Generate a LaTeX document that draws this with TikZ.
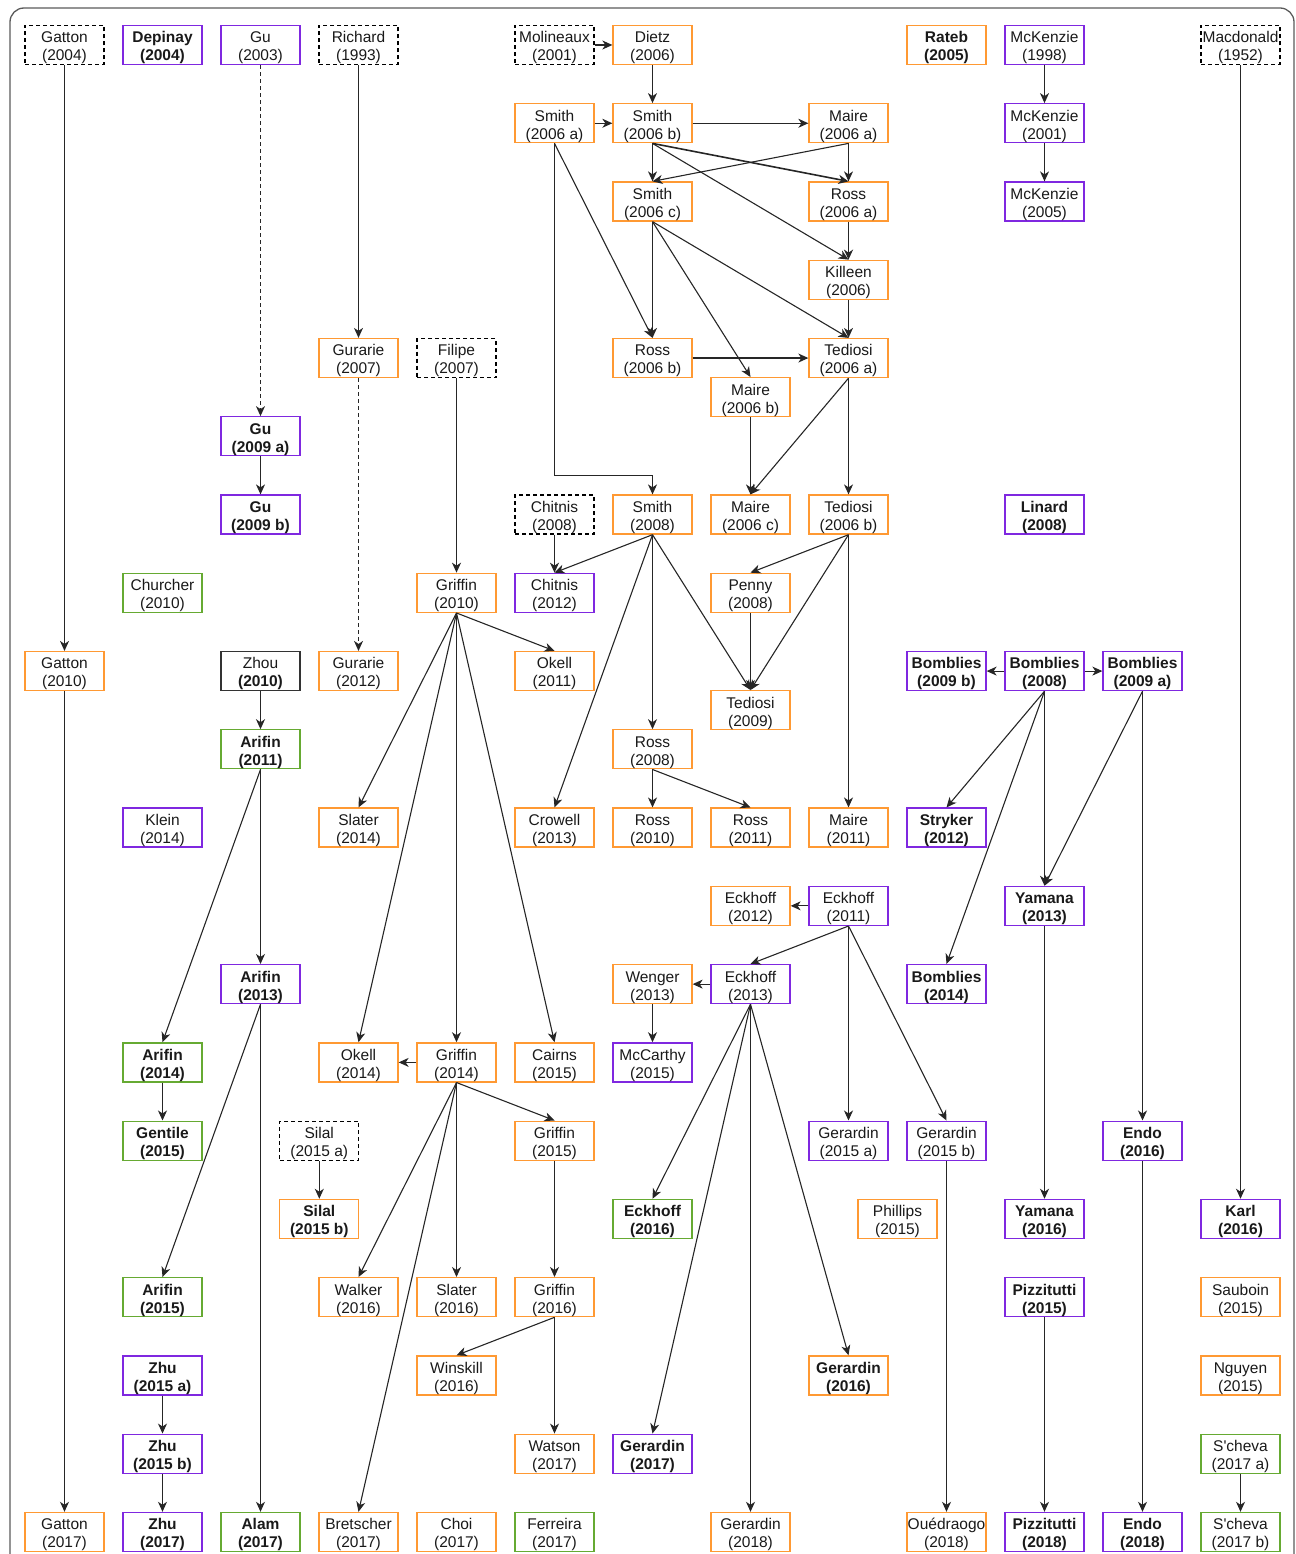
\documentclass[tikz,border=0pt]{standalone}
\usepackage{fontspec}
\setmainfont{Liberation Sans}
\usetikzlibrary{arrows.meta}
\definecolor{orng}{RGB}{255,153,51}
\definecolor{purp}{RGB}{127,40,224}
\definecolor{grn}{RGB}{102,170,50}
\definecolor{frm}{RGB}{90,90,90}
\newcommand\cx[1]{(64.5+98*#1)}
\newcommand\cy[1]{(45+78.26*#1)}
\newcommand\tx[2]{\rule{0pt}{17pt}#1\\#2}
\tikzset{
  box/.style={draw, minimum width=79pt, minimum height=39pt, inner sep=0pt, align=center,
    font=\fontsize{15.5}{18}\selectfont, line width=1.3pt, text=black!90},
  bf/.style={font=\fontsize{15.5}{18}\selectfont\bfseries},
  or/.style={box, draw=orng},
  pu/.style={box, draw=purp},
  gr/.style={box, draw=grn},
  da/.style={box, draw=black, dash pattern=on 4pt off 3pt},
  bk/.style={box, draw=black!80},
  arr/.style={-{Stealth[length=10pt,width=9pt,inset=3pt]}, line width=1.1pt, black!85},
  dsh/.style={arr, dash pattern=on 4pt off 3pt}
}
\begin{document}
\begin{tikzpicture}[x=1pt,y=-1pt]
\useasboundingbox (0,0) rectangle (1295,1554);
\clip (0,0) rectangle (1295,1554);
\draw[frm, line width=1.3pt, rounded corners=14pt] (10,8) rectangle (1294,1600);
% row 0
\node[da] (gat04) at ({\cx{0}},{\cy{0}}) {\tx{Gatton}{(2004)}};
\node[pu,bf] (dep04) at ({\cx{1}},{\cy{0}}) {\tx{Depinay}{(2004)}};
\node[pu] (gu03) at ({\cx{2}},{\cy{0}}) {\tx{Gu}{(2003)}};
\node[da] (ric93) at ({\cx{3}},{\cy{0}}) {\tx{Richard}{(1993)}};
\node[da] (mol01) at ({\cx{5}},{\cy{0}}) {\tx{Molineaux}{(2001)}};
\node[or] (die06) at ({\cx{6}},{\cy{0}}) {\tx{Dietz}{(2006)}};
\node[or,bf] (rat05) at ({\cx{9}},{\cy{0}}) {\tx{Rateb}{(2005)}};
\node[pu] (mck98) at ({\cx{10}},{\cy{0}}) {\tx{McKenzie}{(1998)}};
\node[da] (mac52) at ({\cx{12}},{\cy{0}}) {\tx{Macdonald}{(1952)}};
% row 1
\node[or] (smi06a) at ({\cx{5}},{\cy{1}}) {\tx{Smith}{(2006 a)}};
\node[or] (smi06b) at ({\cx{6}},{\cy{1}}) {\tx{Smith}{(2006 b)}};
\node[or] (mai06a) at ({\cx{8}},{\cy{1}}) {\tx{Maire}{(2006 a)}};
\node[pu] (mck01) at ({\cx{10}},{\cy{1}}) {\tx{McKenzie}{(2001)}};
% row 2
\node[or] (smi06c) at ({\cx{6}},{\cy{2}}) {\tx{Smith}{(2006 c)}};
\node[or] (ros06a) at ({\cx{8}},{\cy{2}}) {\tx{Ross}{(2006 a)}};
\node[pu] (mck05) at ({\cx{10}},{\cy{2}}) {\tx{McKenzie}{(2005)}};
% row 3
\node[or] (kil06) at ({\cx{8}},{\cy{3}}) {\tx{Killeen}{(2006)}};
% row 4
\node[or] (gur07) at ({\cx{3}},{\cy{4}}) {\tx{Gurarie}{(2007)}};
\node[da] (fil07) at ({\cx{4}},{\cy{4}}) {\tx{Filipe}{(2007)}};
\node[or] (ros06b) at ({\cx{6}},{\cy{4}}) {\tx{Ross}{(2006 b)}};
\node[or] (ted06a) at ({\cx{8}},{\cy{4}}) {\tx{Tediosi}{(2006 a)}};
\node[or] (mai06b) at ({\cx{7}},{\cy{4.5}}) {\tx{Maire}{(2006 b)}};
% row 5
\node[pu,bf] (gu09a) at ({\cx{2}},{\cy{5}}) {\tx{Gu}{(2009 a)}};
% row 6
\node[pu,bf] (gu09b) at ({\cx{2}},{\cy{6}}) {\tx{Gu}{(2009 b)}};
\node[da] (chi08) at ({\cx{5}},{\cy{6}}) {\tx{Chitnis}{(2008)}};
\node[or] (smi08) at ({\cx{6}},{\cy{6}}) {\tx{Smith}{(2008)}};
\node[or] (mai06c) at ({\cx{7}},{\cy{6}}) {\tx{Maire}{(2006 c)}};
\node[or] (ted06b) at ({\cx{8}},{\cy{6}}) {\tx{Tediosi}{(2006 b)}};
\node[pu,bf] (lin08) at ({\cx{10}},{\cy{6}}) {\tx{Linard}{(2008)}};
% row 7
\node[gr] (chu10) at ({\cx{1}},{\cy{7}}) {\tx{Churcher}{(2010)}};
\node[or] (gri10) at ({\cx{4}},{\cy{7}}) {\tx{Griffin}{(2010)}};
\node[pu] (chi12) at ({\cx{5}},{\cy{7}}) {\tx{Chitnis}{(2012)}};
\node[or] (pen08) at ({\cx{7}},{\cy{7}}) {\tx{Penny}{(2008)}};
% row 8
\node[or] (gat10) at ({\cx{0}},{\cy{8}}) {\tx{Gatton}{(2010)}};
\node[bk] (zho10) at ({\cx{2}},{\cy{8}}) {\tx{Zhou}{\textbf{(2010)}}};
\node[or] (gur12) at ({\cx{3}},{\cy{8}}) {\tx{Gurarie}{(2012)}};
\node[or] (oke11) at ({\cx{5}},{\cy{8}}) {\tx{Okell}{(2011)}};
\node[pu,bf] (bom09b) at ({\cx{9}},{\cy{8}}) {\tx{Bomblies}{(2009 b)}};
\node[pu,bf] (bom08) at ({\cx{10}},{\cy{8}}) {\tx{Bomblies}{(2008)}};
\node[pu,bf] (bom09a) at ({\cx{11}},{\cy{8}}) {\tx{Bomblies}{(2009 a)}};
\node[or] (ted09) at ({\cx{7}},{\cy{8.5}}) {\tx{Tediosi}{(2009)}};
% row 9
\node[gr,bf] (ari11) at ({\cx{2}},{\cy{9}}) {\tx{Arifin}{(2011)}};
\node[or] (ros08) at ({\cx{6}},{\cy{9}}) {\tx{Ross}{(2008)}};
% row 10
\node[pu] (kle14) at ({\cx{1}},{\cy{10}}) {\tx{Klein}{(2014)}};
\node[or] (sla14) at ({\cx{3}},{\cy{10}}) {\tx{Slater}{(2014)}};
\node[or] (cro13) at ({\cx{5}},{\cy{10}}) {\tx{Crowell}{(2013)}};
\node[or] (ros10) at ({\cx{6}},{\cy{10}}) {\tx{Ross}{(2010)}};
\node[or] (ros11) at ({\cx{7}},{\cy{10}}) {\tx{Ross}{(2011)}};
\node[or] (mai11) at ({\cx{8}},{\cy{10}}) {\tx{Maire}{(2011)}};
\node[pu,bf] (str12) at ({\cx{9}},{\cy{10}}) {\tx{Stryker}{(2012)}};
% row 11
\node[or] (eck12) at ({\cx{7}},{\cy{11}}) {\tx{Eckhoff}{(2012)}};
\node[pu] (eck11) at ({\cx{8}},{\cy{11}}) {\tx{Eckhoff}{(2011)}};
\node[pu,bf] (yam13) at ({\cx{10}},{\cy{11}}) {\tx{Yamana}{(2013)}};
% row 12
\node[pu,bf] (ari13) at ({\cx{2}},{\cy{12}}) {\tx{Arifin}{(2013)}};
\node[or] (wen13) at ({\cx{6}},{\cy{12}}) {\tx{Wenger}{(2013)}};
\node[pu] (eck13) at ({\cx{7}},{\cy{12}}) {\tx{Eckhoff}{(2013)}};
\node[pu,bf] (bom14) at ({\cx{9}},{\cy{12}}) {\tx{Bomblies}{(2014)}};
% row 13
\node[gr,bf] (ari14) at ({\cx{1}},{\cy{13}}) {\tx{Arifin}{(2014)}};
\node[or] (oke14) at ({\cx{3}},{\cy{13}}) {\tx{Okell}{(2014)}};
\node[or] (gri14) at ({\cx{4}},{\cy{13}}) {\tx{Griffin}{(2014)}};
\node[or] (cai15) at ({\cx{5}},{\cy{13}}) {\tx{Cairns}{(2015)}};
\node[pu] (mcc15) at ({\cx{6}},{\cy{13}}) {\tx{McCarthy}{(2015)}};
% row 14
\node[gr,bf] (gen15) at ({\cx{1}},{\cy{14}}) {\tx{Gentile}{(2015)}};
\node[da] (sil15a) at ({\cx{2.6}},{\cy{14}}) {\tx{Silal}{(2015 a)}};
\node[or] (gri15) at ({\cx{5}},{\cy{14}}) {\tx{Griffin}{(2015)}};
\node[pu] (ger15a) at ({\cx{8}},{\cy{14}}) {\tx{Gerardin}{(2015 a)}};
\node[pu] (ger15b) at ({\cx{9}},{\cy{14}}) {\tx{Gerardin}{(2015 b)}};
\node[pu,bf] (end16) at ({\cx{11}},{\cy{14}}) {\tx{Endo}{(2016)}};
% row 15
\node[or,bf] (sil15b) at ({\cx{2.6}},{\cy{15}}) {\tx{Silal}{(2015 b)}};
\node[gr,bf] (eck16) at ({\cx{6}},{\cy{15}}) {\tx{Eckhoff}{(2016)}};
\node[or] (phi15) at ({\cx{8.5}},{\cy{15}}) {\tx{Phillips}{(2015)}};
\node[pu,bf] (yam16) at ({\cx{10}},{\cy{15}}) {\tx{Yamana}{(2016)}};
\node[pu,bf] (kar16) at ({\cx{12}},{\cy{15}}) {\tx{Karl}{(2016)}};
% row 16
\node[gr,bf] (ari15) at ({\cx{1}},{\cy{16}}) {\tx{Arifin}{(2015)}};
\node[or] (wal16) at ({\cx{3}},{\cy{16}}) {\tx{Walker}{(2016)}};
\node[or] (sla16) at ({\cx{4}},{\cy{16}}) {\tx{Slater}{(2016)}};
\node[or] (gri16) at ({\cx{5}},{\cy{16}}) {\tx{Griffin}{(2016)}};
\node[pu,bf] (piz15) at ({\cx{10}},{\cy{16}}) {\tx{Pizzitutti}{(2015)}};
\node[or] (sau15) at ({\cx{12}},{\cy{16}}) {\tx{Sauboin}{(2015)}};
% row 17
\node[pu,bf] (zhu15a) at ({\cx{1}},{\cy{17}}) {\tx{Zhu}{(2015 a)}};
\node[or] (win16) at ({\cx{4}},{\cy{17}}) {\tx{Winskill}{(2016)}};
\node[or,bf] (ger16) at ({\cx{8}},{\cy{17}}) {\tx{Gerardin}{(2016)}};
\node[or] (ngu15) at ({\cx{12}},{\cy{17}}) {\tx{Nguyen}{(2015)}};
% row 18
\node[pu,bf] (zhu15b) at ({\cx{1}},{\cy{18}}) {\tx{Zhu}{(2015 b)}};
\node[or] (wat17) at ({\cx{5}},{\cy{18}}) {\tx{Watson}{(2017)}};
\node[pu,bf] (ger17) at ({\cx{6}},{\cy{18}}) {\tx{Gerardin}{(2017)}};
\node[gr] (sch17a) at ({\cx{12}},{\cy{18}}) {\tx{S\textquotesingle cheva}{(2017 a)}};
% row 19
\node[or] (gat17) at ({\cx{0}},{\cy{19}}) {\tx{Gatton}{(2017)}};
\node[pu,bf] (zhu17) at ({\cx{1}},{\cy{19}}) {\tx{Zhu}{(2017)}};
\node[gr,bf] (ala17) at ({\cx{2}},{\cy{19}}) {\tx{Alam}{(2017)}};
\node[or] (bre17) at ({\cx{3}},{\cy{19}}) {\tx{Bretscher}{(2017)}};
\node[or] (cho17) at ({\cx{4}},{\cy{19}}) {\tx{Choi}{(2017)}};
\node[gr] (fer17) at ({\cx{5}},{\cy{19}}) {\tx{Ferreira}{(2017)}};
\node[or] (ger18) at ({\cx{7}},{\cy{19}}) {\tx{Gerardin}{(2018)}};
\node[or] (oue18) at ({\cx{9}},{\cy{19}}) {\tx{Ouédraogo}{(2018)}};
\node[pu,bf] (piz18) at ({\cx{10}},{\cy{19}}) {\tx{Pizzitutti}{(2018)}};
\node[pu,bf] (end18) at ({\cx{11}},{\cy{19}}) {\tx{Endo}{(2018)}};
\node[gr] (sch17b) at ({\cx{12}},{\cy{19}}) {\tx{S\textquotesingle cheva}{(2017 b)}};

% edges
\draw[arr] (gat04.south) -- (gat10.north);
\draw[arr] (gat10.south) -- (gat17.north);
\draw[dsh] (gu03.south) -- (gu09a.north);
\draw[arr] (gu09a.south) -- (gu09b.north);
\draw[arr] (ric93.south) -- (gur07.north);
\draw[dsh] (gur07.south) -- (gur12.north);
\draw[arr] (mol01.east) -- (die06.west);
\draw[arr] (die06.south) -- (smi06b.north);
\draw[arr] (smi06a.east) -- (smi06b.west);
\draw[arr] (smi06b.east) -- (mai06a.west);
\draw[arr] (smi06b.south) -- (smi06c.north);
\draw[arr, line width=1.6pt] (smi06b.south) -- (ros06a.north);
\draw[arr] (smi06b.south) -- (kil06.north);
\draw[arr] (mai06a.south) -- (smi06c.north);
\draw[arr] (mai06a.south) -- (ros06a.north);
\draw[arr, line width=1.6pt] (ros06a.south) -- (kil06.north);
\draw[arr] (kil06.south) -- (ted06a.north);
\draw[arr] (smi06c.south) -- (ros06b.north);
\draw[arr] (smi06c.south) -- (mai06b.north);
\draw[arr] (smi06c.south) -- (ted06a.north);
\draw[arr] (smi06a.south) -- (ros06b.north);
\draw[arr] (smi06a.south) -- ++(0,332) -| (smi08.north);
\draw[arr] (ros06b.east) -- (ted06a.west);
\draw[arr] (mai06b.south) -- (mai06c.north);
\draw[arr] (ted06a.south) -- (mai06c.north);
\draw[arr] (ted06a.south) -- (ted06b.north);
\draw[arr] (chi08.south) -- (chi12.north);
\draw[arr] (smi08.south) -- (chi12.north);
\draw[arr] (smi08.south) -- (cro13.north);
\draw[arr] (smi08.south) -- (ros08.north);
\draw[arr] (smi08.south) -- (ted09.north);
\draw[arr] (ted06b.south) -- (pen08.north);
\draw[arr] (ted06b.south) -- (ted09.north);
\draw[arr] (ted06b.south) -- (mai11.north);
\draw[arr] (pen08.south) -- (ted09.north);
\draw[arr] (ros08.south) -- (ros10.north);
\draw[arr] (ros08.south) -- (ros11.north);
\draw[arr] (fil07.south) -- (gri10.north);
\draw[arr] (gri10.south) -- (oke11.north);
\draw[arr] (gri10.south) -- (sla14.north);
\draw[arr] (gri10.south) -- (oke14.north);
\draw[arr] (gri10.south) -- (gri14.north);
\draw[arr] (gri10.south) -- (cai15.north);
\draw[arr] (zho10.south) -- (ari11.north);
\draw[arr] (ari11.south) -- (ari13.north);
\draw[arr] (ari11.south) -- (ari14.north);
\draw[arr] (ari14.south) -- (gen15.north);
\draw[arr] (ari13.south) -- (ari15.north);
\draw[arr] (ari13.south) -- (ala17.north);
\draw[arr] (zhu15a.south) -- (zhu15b.north);
\draw[arr] (zhu15b.south) -- (zhu17.north);
\draw[arr] (gri14.west) -- (oke14.east);
\draw[arr] (gri14.south) -- (gri15.north);
\draw[arr] (gri14.south) -- (wal16.north);
\draw[arr] (gri14.south) -- (sla16.north);
\draw[arr] (gri14.south) -- (bre17.north);
\draw[arr] (gri15.south) -- (gri16.north);
\draw[arr] (gri16.south) -- (win16.north);
\draw[arr] (gri16.south) -- (wat17.north);
\draw[arr] (sil15a.south) -- (sil15b.north);
\draw[arr] (bom08.west) -- (bom09b.east);
\draw[arr] (bom08.east) -- (bom09a.west);
\draw[arr] (bom08.south) -- (str12.north);
\draw[arr] (bom08.south) -- (yam13.north);
\draw[arr] (bom08.south) -- (bom14.north);
\draw[arr] (bom09a.south) -- (yam13.north);
\draw[arr] (bom09a.south) -- (end16.north);
\draw[arr] (yam13.south) -- (yam16.north);
\draw[arr] (end16.south) -- (end18.north);
\draw[arr] (piz15.south) -- (piz18.north);
\draw[arr] (mac52.south) -- (kar16.north);
\draw[arr] (sch17a.south) -- (sch17b.north);
\draw[arr] (mck98.south) -- (mck01.north);
\draw[arr] (mck01.south) -- (mck05.north);
\draw[arr] (eck11.west) -- (eck12.east);
\draw[arr] (eck11.south) -- (eck13.north);
\draw[arr] (eck11.south) -- (ger15a.north);
\draw[arr] (eck11.south) -- (ger15b.north);
\draw[arr] (eck13.west) -- (wen13.east);
\draw[arr] (wen13.south) -- (mcc15.north);
\draw[arr] (eck13.south) -- (eck16.north);
\draw[arr] (eck13.south) -- (ger17.north);
\draw[arr] (eck13.south) -- (ger18.north);
\draw[arr] (eck13.south) -- (ger16.north);
\draw[arr] (ger15b.south) -- (oue18.north);
\end{tikzpicture}
\end{document}
